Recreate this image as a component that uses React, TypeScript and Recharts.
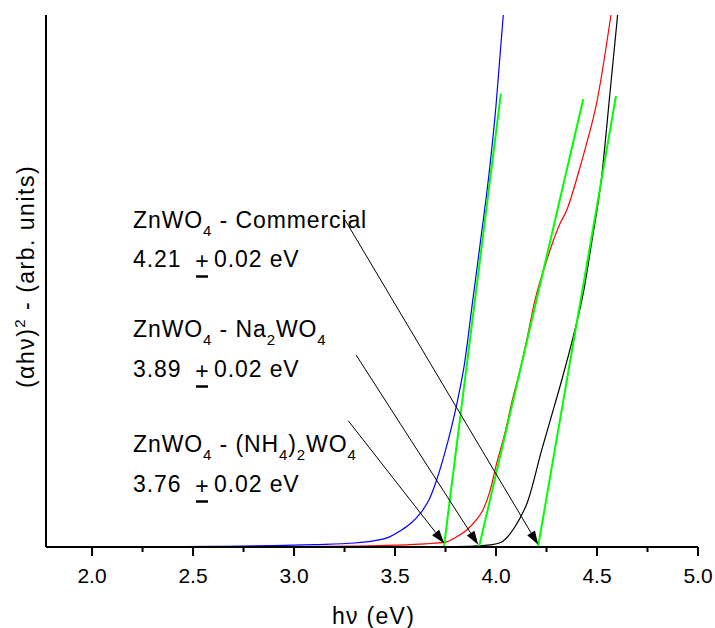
import React from 'react';
import { LineChart, Line, XAxis, YAxis, ReferenceLine, Customized } from 'recharts';

// Photon energy (eV) and (alpha h nu)^2 in arbitrary units (0..100 = plot height)
const blueX = [1.772, 2.3, 2.6, 2.9, 3.1, 3.3, 3.4, 3.467, 3.524, 3.58, 3.625, 3.67, 3.706, 3.745, 3.78, 3.812, 3.842, 3.885, 3.925, 3.962, 4.0, 4.036];
const blueY = [0, 0.05, 0.12, 0.25, 0.45, 0.75, 1.2, 1.8, 3.0, 4.5, 6.3, 9.0, 12.6, 17.5, 22.6, 28, 34, 46.4, 58, 69, 83, 100];

const redX = [1.772, 2.5, 3.0, 3.3, 3.5, 3.65, 3.747, 3.8, 3.855, 3.9, 3.936, 3.97, 4.003, 4.044, 4.08, 4.119, 4.152, 4.193, 4.251, 4.317, 4.35, 4.407, 4.449, 4.498, 4.569];
const redY = [0, 0.02, 0.08, 0.18, 0.35, 0.6, 0.9, 1.8, 3.2, 5.0, 7.0, 10.5, 15.7, 21.4, 27.5, 33.3, 38.9, 46.4, 53.9, 60.8, 63.3, 70.2, 75.9, 83.4, 100];

const blackX = [1.772, 3.0, 3.5, 3.8, 3.912, 3.97, 4.02, 4.094, 4.159, 4.226, 4.27, 4.33, 4.382, 4.432, 4.473, 4.523, 4.564, 4.602];
const blackY = [0, 0, 0.02, 0.08, 0.2, 0.4, 0.8, 3.8, 8.8, 18.2, 24, 32, 39.5, 47.7, 57.1, 69.6, 85.3, 100];

// Linear fits (tangents) for Tauc extrapolation
const fitNH4X = [3.742, 4.024];
const fitNH4Y = [0, 85.2];
const fitNaX = [3.916, 4.432];
const fitNaY = [0, 84.2];
const fitComX = [4.208, 4.594];
const fitComY = [0, 84.8];

// Arrows: [startX, startY, endX, endY]
const arrowCom = [3.252, 61.5, 4.209, 0.4];
const arrowNa = [3.307, 36.1, 3.912, 0.4];
const arrowNH4 = [3.269, 23.7, 3.744, 0.66];

const gapValues = ['4.21', '3.89', '3.76'];
const gapError = '0.02 eV';

const xTicks = [2.0, 2.25, 2.5, 2.75, 3.0, 3.25, 3.5, 3.75, 4.0, 4.25, 4.5, 4.75, 5.0];

const toPts = (xs: number[], ys: number[]) => xs.map((x, i) => ({ x, y: ys[i] }));

const FONT = '"Liberation Sans", Arial, Helvetica, sans-serif';

const Tick = (props: any) => {
  const { x, y, payload } = props;
  const v = payload.value as number;
  const major = Math.abs(v * 2 - Math.round(v * 2)) < 1e-6;
  return (
    <g>
      <line x1={x} y1={y} x2={x} y2={y + (major ? 9 : 5)} stroke="#000" strokeWidth={2} />
      {major && (
        <text x={x} y={y + 36} textAnchor="middle" fontSize={21} fontFamily={FONT} fill="#000">
          {v.toFixed(1)}
        </text>
      )}
    </g>
  );
};

const Arrow = (p: any) => {
  const { x1, y1, x2, y2 } = p;
  const dx = x2 - x1;
  const dy = y2 - y1;
  const L = Math.hypot(dx, dy) || 1;
  const ux = dx / L;
  const uy = dy / L;
  const hl = 14;
  const hw = 4.5;
  const bx = x2 - ux * hl;
  const by = y2 - uy * hl;
  return (
    <g>
      <line x1={x1} y1={y1} x2={bx} y2={by} stroke="#000" strokeWidth={1} />
      <polygon points={`${x2},${y2} ${bx - uy * hw},${by + ux * hw} ${bx + uy * hw},${by - ux * hw}`} fill="#000" />
    </g>
  );
};

const Annotations = () => {
  const ts = { fontSize: 23, fontFamily: FONT, fill: '#000', letterSpacing: 0.9 } as any;
  const valueLine = (v: string, y: number) => (
    <g>
      <text x={133} y={y} {...ts}>{v}</text>
      <text x={202} y={y + 2} fontSize={23} fontFamily={FONT} fill="#000" textAnchor="middle">+</text>
      <line x1={196} x2={208} y1={y + 9.5} y2={y + 9.5} stroke="#000" strokeWidth={2.5} />
      <text x={214} y={y} {...ts}>{gapError}</text>
    </g>
  );
  return (
    <g>
      <text x={133} y={228} {...ts}>
        ZnWO<tspan dy={8} fontSize={15}>4</tspan>
        <tspan dy={-8}> - Commercial</tspan>
      </text>
      {valueLine(gapValues[0], 267)}
      <text x={133} y={337} {...ts}>
        ZnWO<tspan dy={8} fontSize={15}>4</tspan>
        <tspan dy={-8}> - Na</tspan>
        <tspan dy={8} fontSize={15}>2</tspan>
        <tspan dy={-8}>WO</tspan>
        <tspan dy={8} fontSize={15}>4</tspan>
      </text>
      {valueLine(gapValues[1], 377)}
      <text x={133} y={452} {...ts}>
        ZnWO<tspan dy={8} fontSize={15}>4</tspan>
        <tspan dy={-8}> - (NH</tspan>
        <tspan dy={8} fontSize={15}>4</tspan>
        <tspan dy={-8}>)</tspan>
        <tspan dy={8} fontSize={15}>2</tspan>
        <tspan dy={-8}>WO</tspan>
        <tspan dy={8} fontSize={15}>4</tspan>
      </text>
      {valueLine(gapValues[2], 492)}
      <text x={373.5} y={624} textAnchor="middle" fontSize={23} fontFamily={FONT} fill="#000" letterSpacing={1.3}>
        hν (eV)
      </text>
      <text
        x={0}
        y={0}
        transform="translate(34,276.5) rotate(-90)"
        textAnchor="middle"
        fontSize={23}
        fontFamily={FONT}
        fill="#000"
        letterSpacing={1.5}
      >
        (αhν)<tspan dy={-9} fontSize={15}>2</tspan>
        <tspan dy={9}> - (arb. units)</tspan>
      </text>
    </g>
  );
};

export default function App() {
  return (
    <div style={{ position: 'absolute', left: 0, top: 0, width: 715, height: 628, background: '#fff' }}>
      <LineChart width={715} height={628} margin={{ top: 15, right: 17, left: 0, bottom: 0 }}>
        <XAxis
          type="number"
          dataKey="x"
          domain={[1.772, 5]}
          ticks={xTicks}
          interval={0}
          allowDataOverflow
          height={81}
          tick={<Tick />}
          tickLine={false}
          tickSize={0}
          tickMargin={0}
          axisLine={{ stroke: '#000', strokeWidth: 2 }}
        />
        <YAxis
          type="number"
          domain={[0, 100]}
          allowDataOverflow
          width={46}
          tick={false}
          tickLine={false}
          axisLine={{ stroke: '#000', strokeWidth: 2 }}
        />
        <Line data={toPts(blackX, blackY)} dataKey="y" type="monotone" stroke="#000000" strokeWidth={1.2} dot={false} isAnimationActive={false} />
        <Line data={toPts(redX, redY)} dataKey="y" type="monotone" stroke="#ff0000" strokeWidth={1.2} dot={false} isAnimationActive={false} />
        <Line data={toPts(blueX, blueY)} dataKey="y" type="monotone" stroke="#0000ff" strokeWidth={1.2} dot={false} isAnimationActive={false} />
        <Line data={toPts(fitNH4X, fitNH4Y)} dataKey="y" type="linear" stroke="#00ff00" strokeWidth={2} dot={false} isAnimationActive={false} />
        <Line data={toPts(fitNaX, fitNaY)} dataKey="y" type="linear" stroke="#00ff00" strokeWidth={2} dot={false} isAnimationActive={false} />
        <Line data={toPts(fitComX, fitComY)} dataKey="y" type="linear" stroke="#00ff00" strokeWidth={2} dot={false} isAnimationActive={false} />
        {[arrowCom, arrowNa, arrowNH4].map((a, i) => (
          <ReferenceLine
            key={i}
            segment={[{ x: a[0], y: a[1] }, { x: a[2], y: a[3] }]}
            ifOverflow="visible"
            shape={Arrow}
          />
        ))}
        <Customized component={Annotations} />
      </LineChart>
    </div>
  );
}
